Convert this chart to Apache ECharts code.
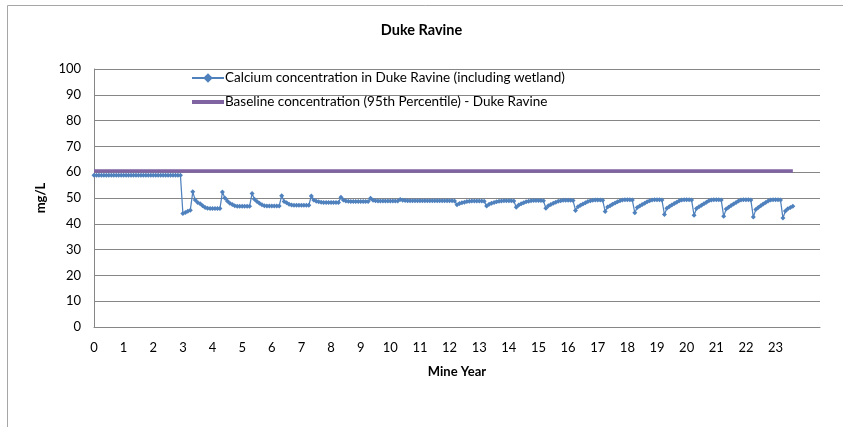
<!DOCTYPE html>
<html>
<head>
<meta charset="utf-8">
<script src="https://cdn.jsdelivr.net/npm/echarts@6/dist/echarts.min.js"></script>
<style>
html,body{margin:0;padding:0;background:#fff;}
#chart{width:843px;height:427px;}
</style>
</head>
<body>
<div id="chart"></div>
<script>
// Month index categories 0..294 (x axis), labelled every 12 months with mine year
var monthCount = 295;
var yearLabels = ['0','1','2','3','4','5','6','7','8','9','10','11','12','13','14','15','16','17','18','19','20','21','22','23'];
var seriesNames = ['Calcium concentration in Duke Ravine (including wetland)', 'Baseline concentration (95th Percentile) - Duke Ravine'];

// Calcium concentration (mg/L), monthly, months 0..283
var calcium = [
  // years 0-2
  58.8,58.8,58.8,58.8,58.8,58.8,58.8,58.8,58.8,58.8,58.8,58.8,
  58.8,58.8,58.8,58.8,58.8,58.8,58.8,58.8,58.8,58.8,58.8,58.8,
  58.8,58.8,58.8,58.8,58.8,58.8,58.8,58.8,58.8,58.8,58.8,58.8,
  // year 3
  44.0,44.4,44.9,45.3,52.4,49.2,48.3,47.8,47.0,46.3,46.0,45.9,
  // year 4
  45.9,45.9,45.9,45.9,52.3,50.0,48.8,48.0,47.5,47.0,46.8,46.8,
  // year 5
  46.8,46.8,46.8,46.8,51.7,49.5,48.6,48.0,47.4,47.0,46.9,46.9,
  // year 6
  46.9,46.9,46.9,46.9,50.9,48.6,48.2,47.6,47.3,47.2,47.2,47.2,
  // year 7
  47.2,47.2,47.2,47.2,50.8,49.2,48.7,48.5,48.4,48.3,48.3,48.3,
  // year 8
  48.3,48.3,48.3,48.3,50.3,49.2,48.8,48.7,48.6,48.6,48.6,48.6,
  // year 9
  48.6,48.6,48.6,48.6,49.9,49.1,48.9,48.8,48.8,48.8,48.8,48.8,
  // year 10
  48.8,48.8,48.8,48.8,49.4,49.1,49.0,48.9,48.9,48.9,48.9,48.9,
  // year 11
  48.9,48.9,48.9,48.9,48.9,48.9,48.9,48.9,48.9,48.9,48.9,48.9,
  // year 12
  48.9,48.9,48.8,47.4,47.9,48.2,48.4,48.6,48.7,48.8,48.8,48.8,
  // year 13
  48.8,48.8,48.7,46.9,47.6,48.0,48.3,48.5,48.7,48.8,48.9,48.9,
  // year 14
  48.9,48.9,48.8,46.4,47.3,47.8,48.2,48.5,48.7,48.9,49.0,49.0,
  // year 15
  49.0,49.0,48.9,46.0,47.0,47.5,48.0,48.4,48.7,48.9,49.1,49.1,
  // year 16
  49.1,49.1,49.0,45.2,46.6,47.2,47.7,48.2,48.6,48.9,49.1,49.2,
  // year 17
  49.2,49.2,49.1,44.8,46.5,47.0,47.6,48.1,48.5,48.9,49.2,49.3,
  // year 18
  49.3,49.3,49.2,44.3,46.3,46.9,47.5,48.0,48.5,48.9,49.2,49.3,
  // year 19
  49.3,49.3,49.2,43.6,46.0,46.7,47.3,47.9,48.4,48.9,49.2,49.3,
  // year 20
  49.3,49.3,49.2,43.3,45.9,46.6,47.2,47.8,48.4,48.9,49.2,49.3,
  // year 21
  49.3,49.3,49.2,42.9,45.7,46.4,47.1,47.7,48.3,48.8,49.2,49.3,
  // year 22
  49.3,49.3,49.2,42.6,45.5,46.3,47.0,47.7,48.3,48.8,49.2,49.3,
  // year 23
  49.3,49.3,49.2,42.2,45.0,45.8,46.3,46.8
];

// Baseline (95th percentile), months 0..283
var baselineValue = 60.5;
var baselineMonths = 284;

var categories = [];
for (var i = 0; i < monthCount; i++) categories.push(String(i));
var baseline = [];
for (var j = 0; j < baselineMonths; j++) baseline.push(baselineValue);

var FONT = "Lato,'Liberation Sans',sans-serif";
var chart = echarts.init(document.getElementById('chart'));
chart.setOption({
  backgroundColor: '#ffffff',
  animation: false,
  textStyle: { fontFamily: FONT },
  title: {
    text: 'Duke Ravine',
    left: 'center',
    top: 18,
    textStyle: { fontSize: 14.5, fontWeight: 'bold', color: '#000', fontFamily: FONT }
  },
  graphic: [{
    type: 'rect',
    shape: { x: 7.5, y: 5.5, width: 860, height: 460 },
    style: { fill: 'none', stroke: '#a6a6a6', lineWidth: 1 },
    silent: true
  }],
  legend: {
    orient: 'vertical',
    left: 185,
    top: 66,
    itemWidth: 32,
    itemHeight: 12,
    itemGap: 10,
    textStyle: { fontSize: 13.5, color: '#000', fontFamily: FONT, padding: [0,0,0,-4] },
    data: [
      { name: seriesNames[0] },
      { name: seriesNames[1], itemStyle: { opacity: 0 }, lineStyle: { width: 4, color: '#8064A2' } }
    ]
  },
  grid: { left: 94, right: 23, top: 69, bottom: 100 },
  xAxis: {
    type: 'category',
    data: categories,
    boundaryGap: false,
    name: 'Mine Year',
    nameLocation: 'middle',
    nameGap: 38,
    nameTextStyle: { fontSize: 13, fontWeight: 'bold', color: '#000', fontFamily: FONT },
    axisLine: { lineStyle: { color: '#868686', width: 1 } },
    axisTick: { show: false },
    axisLabel: {
      interval: function (idx) { return idx % 12 === 0 && idx / 12 < yearLabels.length; },
      formatter: function (v, idx) { return yearLabels[idx / 12] || ''; },
      fontSize: 13,
      color: '#000',
      margin: 14,
      fontFamily: FONT
    },
    splitLine: { show: false }
  },
  yAxis: {
    type: 'value',
    min: 0,
    max: 100,
    interval: 10,
    name: 'mg/L',
    nameLocation: 'middle',
    nameGap: 39,
    nameTextStyle: { fontSize: 13, fontWeight: 'bold', color: '#000', fontFamily: FONT },
    axisLine: { show: true, lineStyle: { color: '#868686', width: 1 } },
    axisTick: { show: false },
    axisLabel: { fontSize: 13, color: '#000', margin: 13, fontFamily: FONT },
    splitLine: { lineStyle: { color: '#868686', width: 1 } }
  },
  series: [
    {
      name: seriesNames[0],
      type: 'line',
      data: calcium,
      symbol: 'diamond',
      symbolSize: 5,
      showAllSymbol: true,
      itemStyle: { color: '#4F81BD' },
      lineStyle: { color: '#4F81BD', width: 1.25 },
      z: 3
    },
    {
      name: seriesNames[1],
      type: 'line',
      data: baseline,
      symbol: 'none',
      itemStyle: { color: '#8064A2' },
      lineStyle: { color: '#8064A2', width: 3.5 },
      z: 2
    }
  ]
});
</script>
</body>
</html>
